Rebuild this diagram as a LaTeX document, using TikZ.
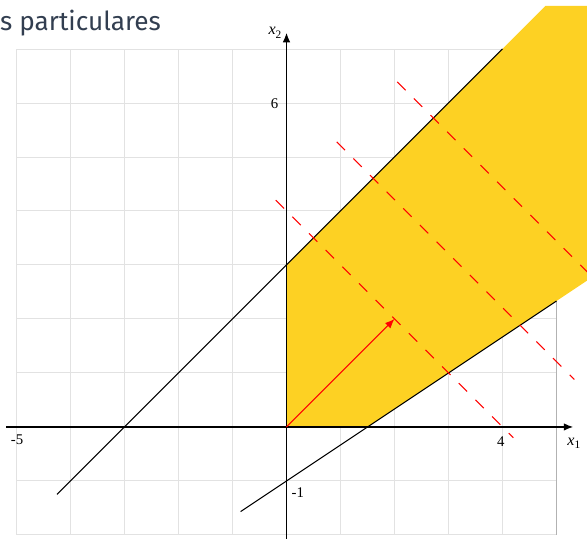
\documentclass[tikz,border=0pt]{standalone}
\usepackage{fontspec}
\setmainfont{Liberation Serif}
\newfontfamily\titlefont{Fira Sans}
\usetikzlibrary{arrows.meta}
\definecolor{gold}{RGB}{253,209,35}
\definecolor{titlec}{RGB}{50,62,80}
\definecolor{gridc}{RGB}{226,226,226}
\tikzset{
  gridline/.style={draw=gridc, line width=0.5pt},
  axisline/.style={draw=black, line width=0.7pt, -{Latex[length=5pt,width=4pt]}},
  boundline/.style={draw=black, line width=0.55pt},
  levelline/.style={draw=red, line width=0.55pt, dash pattern=on 6.2pt off 6.2pt},
  gradarrow/.style={draw=red, line width=0.55pt, -{Latex[length=5pt,width=4pt]}},
  ticklabel/.style={font=\fontsize{7.8}{8}\selectfont, inner sep=0pt},
  axislabel/.style={font=\fontsize{8.5}{9}\selectfont\itshape, inner sep=0pt},
}
\begin{document}
\begin{tikzpicture}
\useasboundingbox (-5.306,-2.074) rectangle (5.565,7.907);
\clip (-5.306,-2.074) rectangle (5.565,7.907);
% grid
\draw[gridline] (-5,-2) grid (5,7);
\draw[draw=black!30, line width=0.5pt] (5,-2) -- (5,7);
% feasible region
\fill[gold] (0,0) -- (0,3) -- (4.8,7.8) -- (5.6,7.8) -- (5.6,2.733) -- (1.5,0) -- cycle;
% boundary lines
\coordinate (a1) at (-4.25,-1.25);
\coordinate (a2) at (4,7);
\coordinate (b1) at (-0.85,-1.567);
\coordinate (b2) at (5,2.333);
\draw[boundline] (a1) -- (a2);
\draw[boundline] (b1) -- (b2);
% level lines
\coordinate (l1s) at (-0.2,4.2);
\coordinate (l1e) at (4.2,-0.2);
\coordinate (l2s) at (0.93,5.28);
\coordinate (l2e) at (5.33,0.88);
\coordinate (l3s) at (2.05,6.39);
\coordinate (l3e) at (6.45,1.99);
\draw[levelline] (l1s) -- (l1e);
\draw[levelline] (l2s) -- (l2e);
\draw[levelline] (l3s) -- (l3e);
% axes
\coordinate (xs) at (-5.19,0);
\coordinate (xe) at (5.31,0);
\coordinate (ys) at (0,-2.2);
\coordinate (ye) at (0,7.3);
\draw[axisline] (xs) -- (xe);
\draw[axisline] (ys) -- (ye);
% gradient arrow
\coordinate (o) at (0,0);
\coordinate (g) at (2,2);
\draw[gradarrow] (o) -- (g);
% labels
\node[axislabel] (lx2) at (-0.213,7.30) {x\raisebox{-0.45ex}{\fontsize{6}{6}\selectfont\upshape 2}};
\node[axislabel] (lx1) at (5.32,-0.30) {x\raisebox{-0.45ex}{\fontsize{6}{6}\selectfont\upshape 1}};
\node[ticklabel] (t6) at (-0.22,5.98) {6};
\node[ticklabel] (tm5) at (-4.99,-0.24) {-5};
\node[ticklabel] (t4) at (3.97,-0.28) {4};
\node[ticklabel] (tm1) at (0.21,-1.22) {-1};
% title
\node[anchor=base west, inner sep=0pt, text=titlec, font=\titlefont\fontsize{13.8}{15}\selectfont] (title) at (-5.31,7.35) {s particulares};
\end{tikzpicture}
\end{document}
